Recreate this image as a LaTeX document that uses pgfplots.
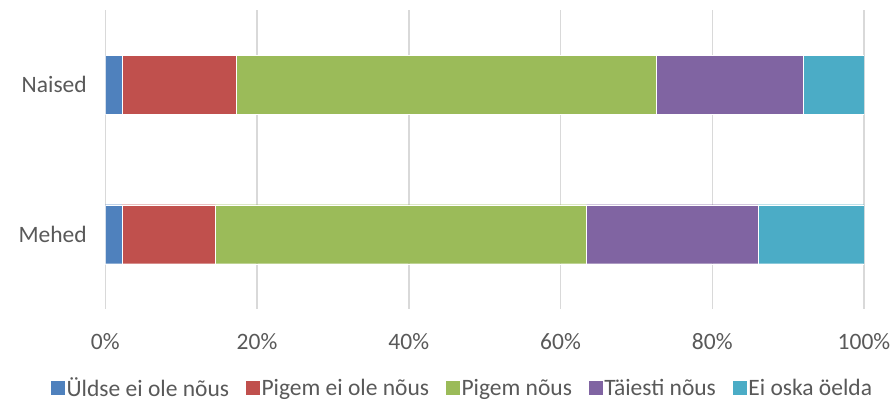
\documentclass[border=0pt]{standalone}
\usepackage{pgfplots}
\pgfplotsset{compat=1.18}
\usepackage{fontspec}
\setmainfont{Carlito}
\definecolor{c1}{HTML}{4F81BD}
\definecolor{c2}{HTML}{C0504D}
\definecolor{c3}{HTML}{9BBB59}
\definecolor{c4}{HTML}{8064A2}
\definecolor{c5}{HTML}{4BACC6}
\definecolor{txt}{HTML}{595959}
\definecolor{gridc}{HTML}{D9D9D9}
\begin{document}
\begin{tikzpicture}
\useasboundingbox (0,0) rectangle (895pt,403pt);
\begin{axis}[
  at={(105.3pt,94pt)}, anchor=south west,
  scale only axis, width=758.7pt, height=299pt,
  xbar stacked, bar width=59pt,
  xmin=0, xmax=100, ymin=-0.5, ymax=1.5,
  xtick={0,20,40,60,80,100},
  xticklabels={0\%,20\%,40\%,60\%,80\%,100\%},
  ytick={0,1}, yticklabels={Mehed,Naised},
  axis line style={draw=none},
  major tick length=0pt,
  xmajorgrids, grid style={draw=gridc, line width=1.5pt},
  ticklabel style={font=\fontsize{23.5}{27}\selectfont, text=txt},
  xticklabel style={yshift=-21pt},
  yticklabel style={xshift=-15pt},
  legend columns=5,
  legend style={draw=none, at={(0.5,0)}, anchor=center, xshift=-22.5pt, yshift=-79pt,
    font=\fontsize{23.5}{27}\selectfont, text=txt,
    /tikz/every even column/.append style={column sep=14pt},
    /tikz/every odd column/.append style={column sep=-1pt},
    /tikz/every node/.append style={inner xsep=2pt}},
  legend image code/.code={\fill[#1] (0pt,-7.5pt) rectangle (15pt,7.5pt);},
  every axis plot/.append style={draw=white, line width=0.4pt},
]
\addplot[fill=c1] coordinates {(2.2,0) (2.2,1)};
\addplot[fill=c2] coordinates {(12.3,0) (15.0,1)};
\addplot[fill=c3] coordinates {(48.9,0) (55.4,1)};
\addplot[fill=c4] coordinates {(22.6,0) (19.4,1)};
\addplot[fill=c5] coordinates {(14.0,0) (8.0,1)};
\legend{Üldse ei ole nõus, Pigem ei ole nõus, Pigem nõus, Täiesti nõus, Ei oska öelda}
\end{axis}
\end{tikzpicture}
\end{document}
